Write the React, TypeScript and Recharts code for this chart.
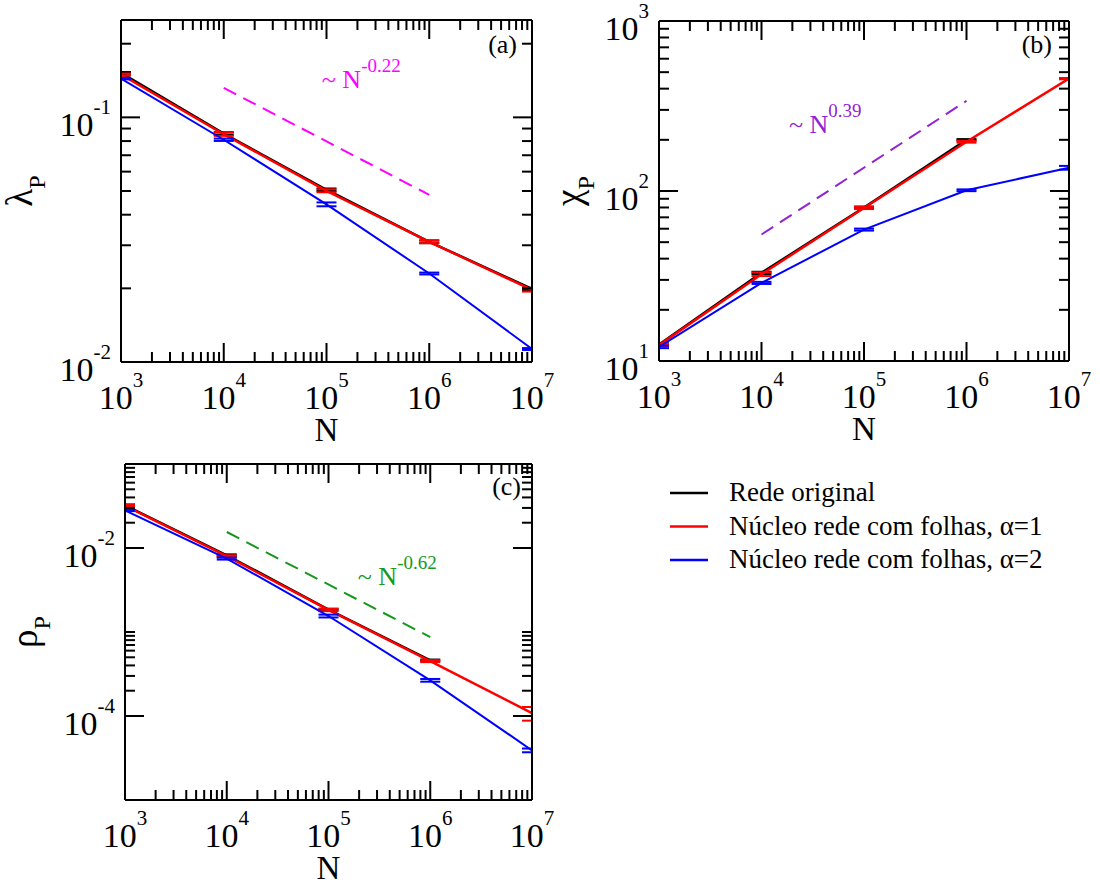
import React from "react";
import { LineChart, Line, XAxis, YAxis, ErrorBar, ReferenceDot, Legend } from "recharts";

const FONT = '"Liberation Serif", "Times New Roman", serif';

// system sizes N (shared by all panels)
const sizes = [1e3, 1e4, 1e5, 1e6, 1e7];

// (a) lambda_P
const lambdaOriginal = [0.152, 0.0858, 0.0506, 0.031, 0.0199];
const lambdaOriginalErr = [0.0012, 0.0011, 0.0006, 0.0004, 0.0002];
const lambdaAlpha1 = [0.1496, 0.0853, 0.0501, 0.031, 0.0197];
const lambdaAlpha1Err = [0.0014, 0.0013, 0.0007, 0.0004, 0.0003];
const lambdaAlpha2 = [0.144, 0.081, 0.0441, 0.023, 0.0113];
const lambdaAlpha2Err = [0.001, 0.0009, 0.0008, 0.0002, 0.0001];
const lambdaGuide = [null, 0.132, null, 0.0482, null];

// (b) chi_P
const chiOriginal = [12.5, 33.0, 80.0, 200, null];
const chiOriginalErr = [0.2, 0.5, 1.0, 2.0, null];
const chiAlpha1 = [12.4, 32.4, 79.5, 195, 458];
const chiAlpha1Err = [0.2, 0.8, 1.2, 2.5, 4];
const chiAlpha2 = [12.1, 28.8, 59.3, 101, 137];
const chiAlpha2Err = [0.2, 0.4, 0.8, 1.2, 3.5];
const chiGuide = [null, 55.5, null, 339, null];

// (c) rho_P
const rhoOriginal = [0.0322, 0.0082, 0.00185, 0.00046, null];
const rhoOriginalErr = [0.0008, 0.0002, 0.00004, 0.00001, null];
const rhoAlpha1 = [0.0318, 0.008, 0.00183, 0.00045, 0.000108];
const rhoAlpha1Err = [0.0009, 0.0002, 0.00006, 0.000012, 0.00002];
const rhoAlpha2 = [0.0281, 0.00748, 0.00155, 0.000266, 0.000039];
const rhoAlpha2Err = [0.0006, 0.0002, 0.00006, 0.00001, 0.000002];
const rhoGuide = [null, 0.0155, null, 0.00087, null];

// ticks
const xTicks = [
  1e3, 2e3, 3e3, 4e3, 5e3, 6e3, 7e3, 8e3, 9e3,
  1e4, 2e4, 3e4, 4e4, 5e4, 6e4, 7e4, 8e4, 9e4,
  1e5, 2e5, 3e5, 4e5, 5e5, 6e5, 7e5, 8e5, 9e5,
  1e6, 2e6, 3e6, 4e6, 5e6, 6e6, 7e6, 8e6, 9e6, 1e7,
];
const xMajor = [1e3, 1e4, 1e5, 1e6, 1e7];
const lambdaTicks = [0.01, 0.02, 0.03, 0.04, 0.05, 0.06, 0.07, 0.08, 0.09, 0.1, 0.2];
const lambdaMajor = [0.01, 0.1];
const chiTicks = [10, 20, 30, 40, 50, 60, 70, 80, 90, 100, 200, 300, 400, 500, 600, 700, 800, 900, 1000];
const chiMajor = [10, 100, 1000];
const rhoTicks = [
  1e-4, 2e-4, 3e-4, 4e-4, 5e-4, 6e-4, 7e-4, 8e-4, 9e-4, 1e-3,
  1e-2, 2e-2, 3e-2, 4e-2, 5e-2, 6e-2, 7e-2, 8e-2, 9e-2,
];
const rhoMajor = [1e-4, 1e-2];

const seriesNames = ["Rede original", "Núcleo rede com folhas, α=1", "Núcleo rede com folhas, α=2"];
const seriesColors = ["#000000", "#ff0000", "#0000ff"];

type Row = {
  n: number;
  orig: number | null;
  origErr: number | null;
  a1: number | null;
  a1Err: number | null;
  a2: number | null;
  a2Err: number | null;
  guide: number | null;
};

function buildRows(
  orig: (number | null)[], origErr: (number | null)[],
  a1: (number | null)[], a1Err: (number | null)[],
  a2: (number | null)[], a2Err: (number | null)[],
  guide: (number | null)[],
): Row[] {
  return sizes.map((n, i) => ({
    n,
    orig: orig[i], origErr: origErr[i],
    a1: a1[i], a1Err: a1Err[i],
    a2: a2[i], a2Err: a2Err[i],
    guide: guide[i],
  }));
}

const MAJOR_LEN = 19;
const MINOR_LEN = 10;

const expOf = (v: number) => String(Math.round(Math.log10(v)));

function PowerOfTen({ x, y, v, anchor }: { x: number; y: number; v: number; anchor: "middle" | "end" }) {
  return (
    <text x={x} y={y} textAnchor={anchor} fontFamily={FONT} fontSize={34} fill="#000">
      10
      <tspan dy={-22} fontSize={21}>{expOf(v)}</tspan>
    </text>
  );
}

const bottomTick = (major: number[]) => (p: any) => {
  const isMajor = major.includes(p.payload.value);
  return (
    <g>
      <line x1={p.x} x2={p.x} y1={p.y} y2={p.y - (isMajor ? MAJOR_LEN : MINOR_LEN)} stroke="#000" strokeWidth={2} />
      {isMajor && <PowerOfTen x={p.x} y={p.y + 47} v={p.payload.value} anchor="middle" />}
    </g>
  );
};

const topTick = (major: number[]) => (p: any) => {
  const isMajor = major.includes(p.payload.value);
  return (
    <line x1={p.x} x2={p.x} y1={p.y} y2={p.y + (isMajor ? MAJOR_LEN : MINOR_LEN)} stroke="#000" strokeWidth={2} />
  );
};

const leftTick = (major: number[]) => (p: any) => {
  const isMajor = major.includes(p.payload.value);
  return (
    <g>
      <line x1={p.x} x2={p.x + (isMajor ? MAJOR_LEN : MINOR_LEN)} y1={p.y} y2={p.y} stroke="#000" strokeWidth={2} />
      {isMajor && <PowerOfTen x={p.x - 10} y={p.y + 19} v={p.payload.value} anchor="end" />}
    </g>
  );
};

const rightTick = (major: number[]) => (p: any) => {
  const isMajor = major.includes(p.payload.value);
  return (
    <line x1={p.x} x2={p.x - (isMajor ? MAJOR_LEN : MINOR_LEN)} y1={p.y} y2={p.y} stroke="#000" strokeWidth={2} />
  );
};

const xTitle = (p: any) => {
  const vb = p.viewBox;
  return (
    <text x={vb.x + vb.width / 2} y={vb.y + 79} textAnchor="middle" fontFamily={FONT} fontSize={33} fill="#000">
      N
    </text>
  );
};

// rotated y title; also holds the clip rectangle used by the error bars
const yTitle = (symbol: string, dist: number, clipId: string, plotWidth: number) => (p: any) => {
  const vb = p.viewBox;
  const left = vb.x + vb.width;
  const cx = left - dist;
  const cy = vb.y + vb.height / 2;
  return (
    <g>
      <defs>
        <clipPath id={clipId}>
          <rect x={left} y={vb.y} width={plotWidth} height={vb.height} />
        </clipPath>
      </defs>
      <text x={cx} y={cy} textAnchor="middle" fontFamily={FONT} fontSize={37} fill="#000" transform={`rotate(-90 ${cx} ${cy})`}>
        {symbol}
        <tspan dy={13} fontSize={24}>P</tspan>
      </text>
    </g>
  );
};

const panelLetter = (letter: string, right: number, down: number) => (p: any) => {
  const vb = p.viewBox;
  return (
    <text x={vb.x + vb.width - right} y={vb.y + vb.height + down} textAnchor="end" fontFamily={FONT} fontSize={26} fill="#000">
      {letter}
    </text>
  );
};

const powerNote = (exp: string, color: string) => (p: any) => {
  const vb = p.viewBox;
  return (
    <text x={vb.x} y={vb.y} fontFamily={FONT} fontSize={26} fill={color}>
      ~ N
      <tspan dy={-16} fontSize={19}>{exp}</tspan>
    </text>
  );
};

function renderLegend(props: any) {
  const items = (props.payload || [])
    .filter((it: any) => it.type !== "none")
    .sort((a: any, b: any) => seriesNames.indexOf(a.value) - seriesNames.indexOf(b.value));
  return (
    <svg width={430} height={125}>
      {items.map((it: any, i: number) => {
        const y = 22 + i * 33.5;
        return (
          <g key={it.value}>
            <line x1={0} x2={38} y1={y} y2={y} stroke={it.color} strokeWidth={2.5} />
            <text x={59} y={y + 8} fontFamily={FONT} fontSize={27} fill="#000">
              {it.value}
            </text>
          </g>
        );
      })}
    </svg>
  );
}

type PanelProps = {
  id: string;
  rows: Row[];
  width: number;
  height: number;
  margin: { top: number; right: number; bottom: number; left: number };
  yDomain: [number, number];
  yTicks: number[];
  yMajor: number[];
  symbol: string;
  titleDist: number;
  letter: string;
  letterPos: [number, number];
  guideColor: string;
  exponent: string;
  note: [number, number];
  showLegend?: boolean;
};

function Panel(p: PanelProps) {
  const axisLine = { stroke: "#000", strokeWidth: 2 };
  // error bars are clipped to the frame so caps on its edges are cut in half
  const clipId = `${p.id}-frame`;
  const clip = `url(#${clipId})`;
  const plotWidth = p.width - p.margin.left - p.margin.right - 2;
  // axes are 1px thick; the margins below already account for that
  return (
    <LineChart id={p.id} width={p.width} height={p.height} data={p.rows} margin={p.margin}>
      <XAxis
        xAxisId="b" dataKey="n" type="number" scale="log" domain={[1e3, 1e7]} allowDataOverflow
        ticks={xTicks} interval={0} tick={bottomTick(xMajor)} tickLine={false} tickSize={0} tickMargin={0}
        height={1} axisLine={axisLine} label={{ content: xTitle }}
      />
      <XAxis
        xAxisId="t" orientation="top" dataKey="n" type="number" scale="log" domain={[1e3, 1e7]} allowDataOverflow
        ticks={xTicks} interval={0} tick={topTick(xMajor)} tickLine={false} tickSize={0} tickMargin={0}
        height={1} axisLine={axisLine} label={{ content: panelLetter(p.letter, p.letterPos[0], p.letterPos[1]) }}
      />
      <YAxis
        yAxisId="l" type="number" scale="log" domain={p.yDomain} allowDataOverflow
        ticks={p.yTicks} interval={0} tick={leftTick(p.yMajor)} tickLine={false} tickSize={0} tickMargin={0}
        width={1} axisLine={axisLine} label={{ content: yTitle(p.symbol, p.titleDist, clipId, plotWidth) }}
      />
      <YAxis
        yAxisId="r" orientation="right" type="number" scale="log" domain={p.yDomain} allowDataOverflow
        ticks={p.yTicks} interval={0} tick={rightTick(p.yMajor)} tickLine={false} tickSize={0} tickMargin={0}
        width={1} axisLine={axisLine}
      />
      <Line
        xAxisId="b" yAxisId="l" dataKey="guide" connectNulls legendType="none" stroke={p.guideColor}
        strokeWidth={2} strokeDasharray="14 8" dot={false} activeDot={false} isAnimationActive={false}
      />
      <Line
        xAxisId="b" yAxisId="l" dataKey="orig" name={seriesNames[0]} stroke={seriesColors[0]}
        strokeWidth={2.5} dot={false} activeDot={false} isAnimationActive={false}
      >
        <ErrorBar dataKey="origErr" direction="y" width={10} stroke={seriesColors[0]} strokeWidth={2} clipPath={clip} isAnimationActive={false} />
      </Line>
      <Line
        xAxisId="b" yAxisId="l" dataKey="a1" name={seriesNames[1]} stroke={seriesColors[1]}
        strokeWidth={2.5} dot={false} activeDot={false} isAnimationActive={false}
      >
        <ErrorBar dataKey="a1Err" direction="y" width={10} stroke={seriesColors[1]} strokeWidth={2} clipPath={clip} isAnimationActive={false} />
      </Line>
      <Line
        xAxisId="b" yAxisId="l" dataKey="a2" name={seriesNames[2]} stroke={seriesColors[2]}
        strokeWidth={2} dot={false} activeDot={false} isAnimationActive={false}
      >
        <ErrorBar dataKey="a2Err" direction="y" width={10} stroke={seriesColors[2]} strokeWidth={2} clipPath={clip} isAnimationActive={false} />
      </Line>
      <ReferenceDot
        xAxisId="b" yAxisId="l" x={p.note[0]} y={p.note[1]} r={0} fill="none" stroke="none"
        label={{ content: powerNote(p.exponent, p.guideColor) }}
      />
      {p.showLegend && (
        <Legend
          layout="vertical" align="center" verticalAlign="middle" content={renderLegend}
          wrapperStyle={{ position: "absolute", left: 670, top: 31, width: 430, height: 125 }}
        />
      )}
    </LineChart>
  );
}

const lambdaRows = buildRows(lambdaOriginal, lambdaOriginalErr, lambdaAlpha1, lambdaAlpha1Err, lambdaAlpha2, lambdaAlpha2Err, lambdaGuide);
const chiRows = buildRows(chiOriginal, chiOriginalErr, chiAlpha1, chiAlpha1Err, chiAlpha2, chiAlpha2Err, chiGuide);
const rhoRows = buildRows(rhoOriginal, rhoOriginalErr, rhoAlpha1, rhoAlpha1Err, rhoAlpha2, rhoAlpha2Err, rhoGuide);

export default function App() {
  return (
    <div style={{ position: "absolute", left: 0, top: 0, width: 1100, height: 883, background: "#fff", overflow: "hidden" }}>
      <div style={{ position: "absolute", left: 0, top: 0 }}>
        <Panel
          id="lambda" rows={lambdaRows} width={560} height={450}
          margin={{ top: 19, right: 27, bottom: 87, left: 120 }}
          yDomain={[0.01, 0.25]} yTicks={lambdaTicks} yMajor={lambdaMajor}
          symbol="λ" titleDist={89} letter="(a)" letterPos={[15, 33]}
          guideColor="#ff00ff" exponent="-0.22" note={[9e4, 0.132]}
        />
      </div>
      <div style={{ position: "absolute", left: 540, top: 0 }}>
        <Panel
          id="chi" rows={chiRows} width={560} height={450}
          margin={{ top: 20, right: 30, bottom: 88, left: 118 }}
          yDomain={[10, 1000]} yTicks={chiTicks} yMajor={chiMajor}
          symbol="χ" titleDist={78} letter="(b)" letterPos={[17, 32]}
          guideColor="#9422d0" exponent="0.39" note={[1.85e4, 219]}
        />
      </div>
      <div style={{ position: "absolute", left: 0, top: 440 }}>
        <Panel
          id="rho" rows={rhoRows} width={1100} height={443}
          margin={{ top: 23, right: 567, bottom: 82, left: 124 }}
          yDomain={[1e-5, 0.1]} yTicks={rhoTicks} yMajor={rhoMajor}
          symbol="ρ" titleDist={88} letter="(c)" letterPos={[11, 31]}
          guideColor="#16981a" exponent="-0.62" note={[1.94e5, 0.0036]}
          showLegend
        />
      </div>
    </div>
  );
}
